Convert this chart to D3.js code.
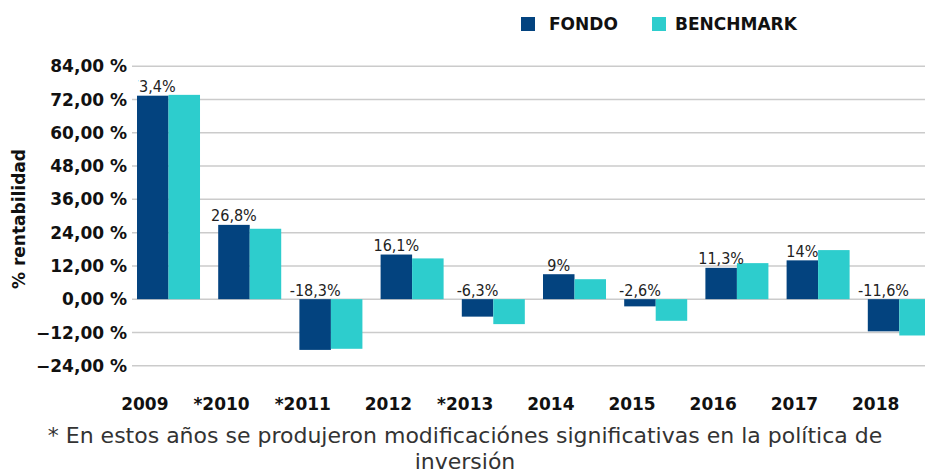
<!DOCTYPE html>
<html>
<head>
<meta charset="utf-8">
<script src="https://cdn.jsdelivr.net/npm/d3@7"></script>
<style>
  body { margin: 0; background: #fff; }
  svg { display: block; }
</style>
</head>
<body>
<div id="chart"></div>
<script>
// datos
const years = ["2009", "*2010", "*2011", "2012", "*2013", "2014", "2015", "2016", "2017", "2018"];
const fondo = [73.4, 26.8, -18.3, 16.1, -6.3, 9, -2.6, 11.3, 14, -11.6];
const benchmark = [73.7, 25.4, -17.9, 14.7, -9.0, 7.2, -7.8, 13.0, 17.7, -13.1];
const fondoLabels = ["73,4%", "26,8%", "-18,3%", "16,1%", "-6,3%", "9%", "-2,6%", "11,3%", "14%", "-11,6%"];
const yTicks = [84, 72, 60, 48, 36, 24, 12, 0, -12, -24];
const seriesNames = ["FONDO", "BENCHMARK"];
const colors = ["#03437f", "#2dcdcd"];

const width = 925, height = 474;
const plotLeft = 137;
const bold = "'DejaVu Sans', Verdana, sans-serif";
const cond = "'DejaVu Sans Condensed', 'DejaVu Sans', sans-serif";

const svg = d3.select("#chart").append("svg")
    .attr("width", width)
    .attr("height", height);

const y = d3.scaleLinear().domain([-24, 84]).range([365.7, 66.3]);

const x = d3.scaleBand()
    .domain(years)
    .range([plotLeft, plotLeft + 81.2 * (years.length - 0.224)])
    .paddingInner(0.224)
    .paddingOuter(0);

const xSub = d3.scaleBand()
    .domain(seriesNames)
    .range([0, x.bandwidth()]);

// rejilla
svg.append("g")
    .selectAll("line")
    .data(yTicks)
    .join("line")
    .attr("x1", 132)
    .attr("x2", width)
    .attr("y1", d => y(d))
    .attr("y2", d => y(d))
    .attr("stroke", "#cbcbcb")
    .attr("stroke-width", 1.5);

// eje y
svg.append("g")
    .selectAll("text")
    .data(yTicks)
    .join("text")
    .attr("x", 127)
    .attr("y", d => y(d))
    .attr("dy", "0.36em")
    .attr("text-anchor", "end")
    .attr("font-family", bold)
    .attr("font-weight", "bold")
    .attr("font-size", 17)
    .attr("fill", "#111")
    .text(d => d3.format(".2f")(d).replace(".", ",") + " %");

svg.append("text")
    .attr("transform", `translate(25,219) rotate(-90)`)
    .attr("text-anchor", "middle")
    .attr("font-family", bold)
    .attr("font-weight", "bold")
    .attr("font-size", 17)
    .attr("fill", "#111")
    .text("% rentabilidad");

// barras
const rows = years.map((yr, i) => ({ year: yr, values: [fondo[i], benchmark[i]], label: fondoLabels[i] }));

const group = svg.append("g")
    .selectAll("g")
    .data(rows)
    .join("g")
    .attr("transform", d => `translate(${x(d.year)},0)`);

group.selectAll("rect")
    .data(d => d.values.map((v, j) => ({ key: seriesNames[j], v, j })))
    .join("rect")
    .attr("x", d => xSub(d.key))
    .attr("width", xSub.bandwidth())
    .attr("y", d => y(Math.max(0, d.v)))
    .attr("height", d => Math.abs(y(d.v) - y(0)))
    .attr("fill", d => colors[d.j]);

// etiquetas (recortadas al área del gráfico)
svg.append("defs").append("clipPath")
    .attr("id", "plot-clip")
    .append("rect")
    .attr("x", plotLeft + 1)
    .attr("y", 0)
    .attr("width", width - plotLeft)
    .attr("height", height);

svg.append("g")
    .attr("clip-path", "url(#plot-clip)")
    .selectAll("text")
    .data(rows)
    .join("text")
    .attr("x", d => x(d.year) + xSub("FONDO") + xSub.bandwidth() / 2)
    .attr("y", d => y(Math.max(0, d.values[0])) - 3.5)
    .attr("text-anchor", "middle")
    .attr("font-family", cond)
    .attr("font-size", 16)
    .attr("fill", "#222")
    .text(d => d.label);

// eje x (alineado a la derecha en el límite entre barras)
svg.append("g")
    .selectAll("text")
    .data(years)
    .join("text")
    .attr("x", d => x(d) + xSub.bandwidth())
    .attr("y", 410)
    .attr("text-anchor", "end")
    .attr("font-family", bold)
    .attr("font-weight", "bold")
    .attr("font-size", 17)
    .attr("fill", "#111")
    .text(d => d);

// leyenda
const legendX = [521, 652];
const legend = svg.append("g")
    .selectAll("g")
    .data(seriesNames)
    .join("g")
    .attr("transform", (d, i) => `translate(${legendX[i]},17)`);

legend.append("rect")
    .attr("width", 14)
    .attr("height", 14)
    .attr("fill", (d, i) => colors[i]);

legend.append("text")
    .attr("x", (d, i) => i === 0 ? 28 : 23)
    .attr("y", 13)
    .attr("font-family", bold)
    .attr("font-weight", "bold")
    .attr("font-size", 17)
    .attr("fill", "#111")
    .text(d => d);

// nota
const note = svg.append("text")
    .attr("text-anchor", "middle")
    .attr("font-family", "'DejaVu Sans', sans-serif")
    .attr("font-size", 22)
    .attr("fill", "#333");

note.append("tspan")
    .attr("x", 465)
    .attr("y", 443)
    .text("* En estos años se produjeron modificaciónes significativas en la política de");

note.append("tspan")
    .attr("x", 465)
    .attr("y", 468.5)
    .text("inversión");
</script>
</body>
</html>
